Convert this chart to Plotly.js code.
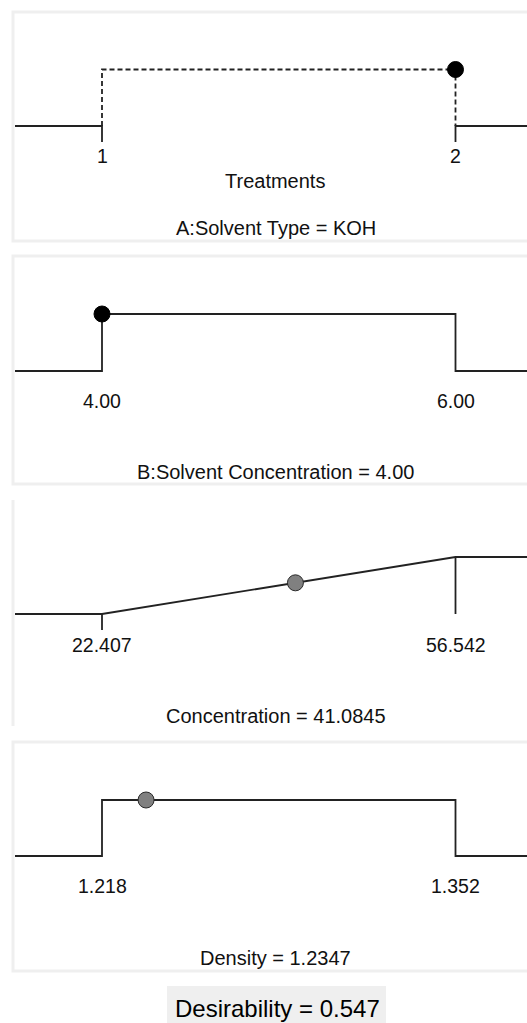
<!DOCTYPE html>
<html>
<head>
<meta charset="utf-8">
<script src="https://cdn.plot.ly/plotly-3.0.1.min.js"></script>
<style>html,body{margin:0;padding:0;background:#fff;}#chart{width:527px;height:1023px;}</style>
</head>
<body>
<div id="chart"></div>
<script>
// ---------------- data ----------------
const factorNames = ["A:Solvent Type", "B:Solvent Concentration", "Concentration", "Density"];
const currentText = ["KOH", "4.00", "41.0845", "1.2347"];
const lowValues = [1, 4.00, 22.407, 1.218];
const highValues = [2, 6.00, 56.542, 1.352];
const tickLabelsA = ["1", "2"];
const tickLabelsB = ["4.00", "6.00"];
const tickLabelsC = ["22.407", "56.542"];
const tickLabelsD = ["1.218", "1.352"];
const currentValues = [2, 4.00, 41.0845, 1.2347];
const currentDesirability = [1, 1, 0.547, 1];
const axisTitleA = "Treatments";
const overallDesirability = 0.547;

// ---------------- layout geometry (pixels) ----------------
const W = 527, H = 1023;
const plotLeft = 15, plotRight = 527, lowPx = 102, highPx = 455.5;
const panels = [
  {box: [12, 241], base: 126, one: 69.5, label: 156, title: 228, border: "full"},
  {box: [256, 484], base: 371, one: 314, label: 401, title: 471.5, border: "full"},
  {box: [500, 726], base: 614, one: 557, label: 644.5, title: 715.5, border: "left"},
  {box: [742, 971], base: 856, one: 800, label: 886, title: 957.5, border: "full"}
];
const px2x = p => p / W;
const px2y = p => 1 - p / H;

const lineColor = "#222222";
const lw = 1.8;
const fontFam = "Liberation Sans, Arial, sans-serif";
const textColor = "#111111";

const traces = [];
const annotations = [];
const shapes = [];
const layout = {
  width: W, height: H,
  margin: {l: 0, r: 0, t: 0, b: 0},
  paper_bgcolor: "#ffffff", plot_bgcolor: "rgba(0,0,0,0)",
  showlegend: false,
  font: {family: fontFam, color: textColor}
};

const tickSets = [tickLabelsA, tickLabelsB, tickLabelsC, tickLabelsD];

panels.forEach((p, i) => {
  const n = i + 1;
  const xa = "x" + (n === 1 ? "" : n), ya = "y" + (n === 1 ? "" : n);
  const xk = "xaxis" + (n === 1 ? "" : n), yk = "yaxis" + (n === 1 ? "" : n);
  const lo = lowValues[i], hi = highValues[i], span = hi - lo;
  const perPx = span / (highPx - lowPx);
  const xr = [lo - (lowPx - plotLeft) * perPx, hi + (plotRight - highPx) * perPx];
  const ppu = p.base - p.one;
  const yr = [(p.base - p.box[1]) / ppu, (p.base - p.box[0]) / ppu];
  const tickDrop = -16 / ppu;
  layout[xk] = {domain: [px2x(plotLeft), 1], range: xr, anchor: ya, visible: false, fixedrange: true};
  layout[yk] = {domain: [px2y(p.box[1]), px2y(p.box[0])], range: yr, anchor: xa, visible: false, fixedrange: true};

  const solid = {type: "scatter", mode: "lines", xaxis: xa, yaxis: ya, hoverinfo: "skip",
    line: {color: lineColor, width: lw}};
  if (i === 0) {
    traces.push(Object.assign({}, solid, {x: [xr[0], lo, lo, lo], y: [0, 0, 0, tickDrop]}));
    traces.push(Object.assign({}, solid, {x: [xr[1], hi, hi], y: [0, 0, tickDrop]}));
    traces.push(Object.assign({}, solid, {x: [lo, lo, hi, hi], y: [0, 1, 1, 0],
      line: {color: lineColor, width: lw, dash: "5px,3px"}}));
  } else if (i === 2) {
    traces.push(Object.assign({}, solid, {x: [xr[0], lo, hi, xr[1]], y: [0, 0, 1, 1]}));
    traces.push(Object.assign({}, solid, {x: [lo, lo], y: [0, tickDrop]}));
    traces.push(Object.assign({}, solid, {x: [hi, hi], y: [1, 0]}));
  } else {
    traces.push(Object.assign({}, solid, {x: [xr[0], lo, lo, hi, hi, xr[1]], y: [0, 0, 1, 1, 0, 0]}));
  }
  const isFactor = i < 2;
  traces.push({type: "scatter", mode: "markers", xaxis: xa, yaxis: ya, hoverinfo: "skip",
    x: [currentValues[i]], y: [currentDesirability[i]],
    marker: {size: 16, color: isFactor ? "#000000" : "#808080",
      line: {color: isFactor ? "#000000" : "#2a2a2a", width: 1}}});

  // tick labels
  const labY = (p.base - p.label) / ppu;
  [lo, hi].forEach((v, k) => {
    annotations.push({xref: xa, yref: ya, x: v, y: labY, text: tickSets[i][k], showarrow: false,
      xanchor: "center", yanchor: "middle", font: {size: 19.5, family: fontFam, color: textColor}});
  });
  if (i === 0) {
    annotations.push({xref: "paper", yref: "paper", x: px2x(275), y: px2y(180.5), text: axisTitleA,
      showarrow: false, xanchor: "center", yanchor: "middle", font: {size: 20, family: fontFam, color: textColor}});
  }
  annotations.push({xref: "paper", yref: "paper", x: px2x(275.5), y: px2y(p.title),
    text: factorNames[i] + " = " + currentText[i], showarrow: false, xanchor: "center", yanchor: "middle",
    font: {size: 20, family: fontFam, color: textColor}});

  // borders
  const bc = "#efefef";
  if (p.border === "full") {
    shapes.push({type: "rect", xref: "paper", yref: "paper", x0: px2x(13), x1: px2x(530),
      y0: px2y(p.box[1]), y1: px2y(p.box[0]), line: {color: bc, width: 3}, layer: "below"});
  } else {
    shapes.push({type: "line", xref: "paper", yref: "paper", x0: px2x(13), x1: px2x(13),
      y0: px2y(p.box[1]), y1: px2y(p.box[0]), line: {color: bc, width: 3}, layer: "below"});
  }
});

// desirability box
shapes.push({type: "rect", xref: "paper", yref: "paper", x0: px2x(167), x1: px2x(386),
  y0: px2y(1023), y1: px2y(986), fillcolor: "#efefef", line: {width: 0}, layer: "below"});
annotations.push({xref: "paper", yref: "paper", x: px2x(277), y: px2y(1008.5),
  text: "Desirability = " + overallDesirability.toFixed(3), showarrow: false, xanchor: "center", yanchor: "middle",
  font: {size: 24, family: fontFam, color: "#000000"}});

layout.annotations = annotations;
layout.shapes = shapes;

Plotly.newPlot("chart", traces, layout, {displayModeBar: false, staticPlot: true});
</script>
</body>
</html>
